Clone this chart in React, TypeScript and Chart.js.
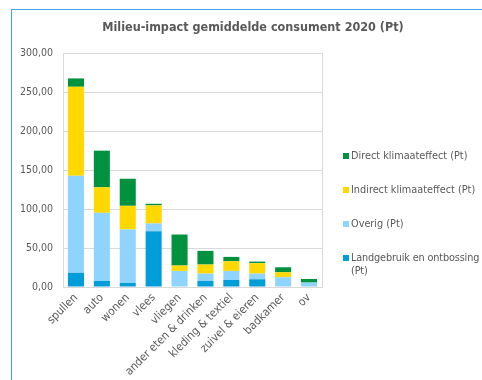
import React, { useEffect, useRef } from "react";
import { Chart, registerables } from "chart.js";

Chart.register(...registerables);

const categories = ["spullen", "auto", "wonen", "vlees", "vliegen", "ander eten & drinken", "kleding & textiel", "zuivel & eieren", "badkamer", "ov"];
const landgebruik = [18, 7.7, 5.1, 71.6, 0, 7.7, 9, 9.9, 0, 0];
const overig = [124.7, 87.4, 68.6, 9.9, 20.6, 9.5, 11.6, 7.3, 12.5, 5.7];
const indirect = [114, 32.7, 30.4, 23.1, 6.9, 11.6, 12.4, 13.3, 6.4, 0];
const direct = [10.7, 47, 34.7, 2.1, 39.8, 17.5, 5.6, 2.1, 6.4, 4.6];

const seriesNames = ["Direct klimaateffect (Pt)", "Indirect klimaateffect (Pt)", "Overig (Pt)", "Landgebruik en ontbossing (Pt)"];
const title = "Milieu-impact gemiddelde consument 2020 (Pt)";

const C_DIRECT = "#00923F";
const C_INDIRECT = "#FFD800";
const C_OVERIG = "#8FD4FC";
const C_LAND = "#009DD9";
const FONT = "'DejaVu Sans Condensed', 'DejaVu Sans', sans-serif";
const GRAY = "#595959";
const FRAME = "#3FA6E6";

export default function App() {
  const ref = useRef<HTMLCanvasElement>(null);
  useEffect(() => {
    document.body.style.margin = "0";
    const chart = new Chart(ref.current!, {
      type: "bar",
      data: {
        labels: categories,
        datasets: [
          { label: seriesNames[3], data: landgebruik, backgroundColor: C_LAND },
          { label: seriesNames[2], data: overig, backgroundColor: C_OVERIG },
          { label: seriesNames[1], data: indirect, backgroundColor: C_INDIRECT },
          { label: seriesNames[0], data: direct, backgroundColor: C_DIRECT },
        ],
      },
      options: {
        animation: false,
        responsive: false,
        maintainAspectRatio: false,
        datasets: { bar: { categoryPercentage: 1, barPercentage: 0.62, borderWidth: 0 } },
        layout: { padding: { left: 20, right: 160, top: 53, bottom: 0 } },
        plugins: {
          legend: { display: false },
          tooltip: { enabled: false },
          title: { display: false },
        },
        scales: {
          x: {
            stacked: true,
            grid: { display: false, drawTicks: false },
            border: { color: "#D9D9D9" },
            afterFit: (s: any) => { s.height = 93; },
            ticks: {
              color: GRAY,
              font: { family: FONT, size: 11.5 },
              maxRotation: 45,
              minRotation: 45,
              padding: 4,
              autoSkip: false,
            },
          },
          y: {
            stacked: true,
            min: 0,
            max: 300,
            afterFit: (s: any) => { s.width = 43; },
            grid: { color: "#D9D9D9", drawTicks: false },
            border: { display: false },
            ticks: {
              stepSize: 50,
              color: GRAY,
              font: { family: FONT, size: 10.5 },
              padding: 10,
              callback: (v: any) => Number(v).toFixed(2).replace(".", ","),
            },
          },
        },
      },
      plugins: [
        {
          id: "plotBorder",
          afterDraw(c: any) {
            const { ctx, chartArea } = c;
            ctx.save();
            ctx.strokeStyle = "#D9D9D9";
            ctx.lineWidth = 1;
            ctx.beginPath();
            ctx.moveTo(Math.round(chartArea.right) + 0.5, chartArea.top);
            ctx.lineTo(Math.round(chartArea.right) + 0.5, chartArea.bottom);
            ctx.moveTo(Math.round(chartArea.left) + 0.5, chartArea.top);
            ctx.lineTo(Math.round(chartArea.left) + 0.5, chartArea.bottom);
            ctx.stroke();
            ctx.restore();
          },
        },
      ],
    });
    return () => chart.destroy();
  }, []);

  const legendItems = [
    { name: [seriesNames[0]], color: C_DIRECT, top: 149 },
    { name: [seriesNames[1]], color: C_INDIRECT, top: 183 },
    { name: [seriesNames[2]], color: C_OVERIG, top: 217 },
    { name: ["Landgebruik en ontbossing", "(Pt)"], color: C_LAND, top: 251 },
  ];

  return (
    <div style={{ position: "relative", width: 482, height: 380, background: "#fff", overflow: "hidden" }}>
      <canvas ref={ref} width={482} height={380} style={{ position: "absolute", left: 0, top: 0 }} />
      <div style={{ position: "absolute", left: 11, top: 9, width: 471, height: 371, borderLeft: `1px solid ${FRAME}`, borderTop: `1px solid ${FRAME}`, pointerEvents: "none" }} />
      <div style={{ position: "absolute", left: 0, top: 19, width: 506, textAlign: "center", font: `bold 12.5px ${FONT}`, color: GRAY, lineHeight: "16px", whiteSpace: "nowrap" }}>{title}</div>
      {legendItems.map((it) => (
        <div key={it.name[0]} style={{ position: "absolute", left: 343, top: it.top, width: 140, font: `10.8px ${FONT}`, color: GRAY, lineHeight: "13px", display: "flex", whiteSpace: "nowrap" }}>
          <span style={{ display: "inline-block", width: 6, height: 6, background: it.color, marginTop: 4, marginRight: 2, flex: "none" }} />
          <span style={{ letterSpacing: it.name.length > 1 ? "-0.15px" : "0px" }}>
            {it.name.map((line, i) => (
              <React.Fragment key={i}>
                {i > 0 && <br />}
                {line}
              </React.Fragment>
            ))}
          </span>
        </div>
      ))}
    </div>
  );
}
